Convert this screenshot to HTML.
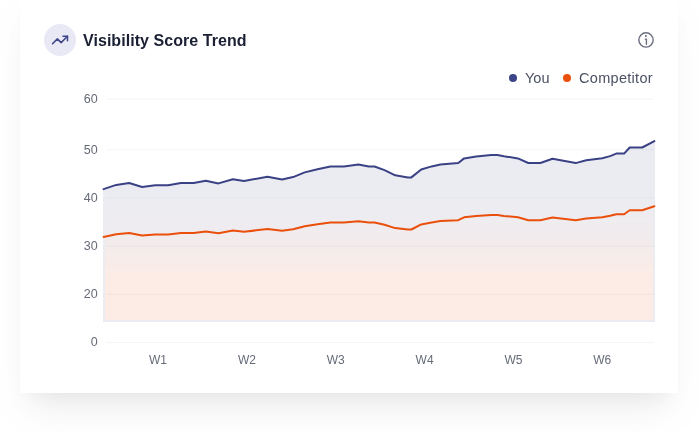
<!DOCTYPE html>
<html lang="en"><head><meta charset="utf-8"><title>Visibility Score Trend</title>
<style>
html,body{margin:0;padding:0;background:#fff;}
body{width:698px;height:433px;overflow:hidden;position:relative;font-family:"Liberation Sans",sans-serif;}
.card{position:absolute;left:20px;top:-10px;width:658px;height:402.5px;background:#fff;
box-shadow:0 24px 32px -14px rgba(0,0,0,.08),0 10px 14px -5px rgba(0,0,0,.025),0 20px 40px 10px rgba(0,0,0,.016);}
.badge{position:absolute;left:44px;top:24px;width:32px;height:32px;border-radius:50%;background:#e8e9f5;}
.title{position:absolute;left:82.7px;top:31px;font-size:16px;line-height:20px;font-weight:700;color:#1a1f33;white-space:nowrap;letter-spacing:0.05px;}
.legend{position:absolute;top:68px;font-size:14.5px;line-height:20px;color:#4b5163;white-space:nowrap;will-change:transform;}
.title{will-change:transform;}
svg{will-change:transform;}
.dot{position:absolute;width:8px;height:8px;border-radius:50%;}
svg{position:absolute;left:0;top:0;}
svg text{font-family:"Liberation Sans",sans-serif;font-size:12.5px;fill:#666b78;}
</style></head><body>
<div class="card"></div>
<div class="badge"></div>
<svg width="698" height="433" viewBox="0 0 698 433">
<defs>
<linearGradient id="gor" gradientUnits="userSpaceOnUse" x1="0" y1="206" x2="0" y2="320">
<stop offset="0" stop-color="#fdece5" stop-opacity="0.06"/>
<stop offset="0.228" stop-color="#fdece5" stop-opacity="0.13"/>
<stop offset="0.351" stop-color="#fdece5" stop-opacity="0.32"/>
<stop offset="0.474" stop-color="#fdece5" stop-opacity="0.64"/>
<stop offset="0.605" stop-color="#fdece5" stop-opacity="0.92"/>
<stop offset="0.70" stop-color="#fdece5" stop-opacity="1"/>
<stop offset="1" stop-color="#fdece5" stop-opacity="1"/>
</linearGradient>
<linearGradient id="gwarm" gradientUnits="userSpaceOnUse" x1="0" y1="185" x2="0" y2="235">
<stop offset="0" stop-color="#fdece5" stop-opacity="0"/>
<stop offset="1" stop-color="#fdece5" stop-opacity="0.2"/>
</linearGradient>
</defs>
<!-- trending icon -->
<g transform="translate(51,31) scale(0.75)" fill="none" stroke="#3d4589" stroke-width="2" stroke-linecap="round" stroke-linejoin="round">
<polyline points="22 7 13.5 15.5 8.5 10.5 2 17"/><polyline points="16 7 22 7 22 13"/></g>
<!-- info icon -->
<g fill="none" stroke="#6a6f7e" stroke-width="1.4" stroke-linecap="round" stroke-linejoin="round">
<circle cx="646" cy="39.95" r="7.15"/><path d="M645.3 39.15H646.4V44.3"/></g>
<circle cx="645.9" cy="36.1" r="1" fill="#6a6f7e"/>

<polygon points="103,322 103,189.2 103.6,189.1 116.2,184.9 129.2,183.0 142.1,187.0 155.2,185.2 168.1,185.2 181.0,183.0 193.7,183.0 205.8,180.7 218.5,183.4 232.9,179.2 244.0,180.9 267.5,176.8 282.1,179.4 293.1,177.1 304.7,172.4 317.5,169.2 330.4,166.5 344.0,166.5 358.4,164.6 368.8,166.5 374.5,166.5 384.5,170.1 395.2,175.3 407.9,177.4 411.4,177.4 421.2,169.5 431.6,166.4 440.4,164.4 458.3,163.0 464.1,158.4 476.2,156.6 491.2,155.0 497.5,155.0 503.9,156.2 517.9,158.4 528.3,163.0 540.4,163.0 552.5,158.7 575.7,163.1 586.2,160.2 602.3,158.3 610.1,156.1 616.3,153.6 624.1,153.6 629.7,147.5 642.2,147.5 654.4,141.1 655,140.8 655,322" fill="#3f4a80" fill-opacity="0.105"/>
<clipPath id="oc"><rect x="105" y="130" width="548" height="189.8"/></clipPath>
<polygon points="103,322 103,189.2 103.6,189.1 116.2,184.9 129.2,183.0 142.1,187.0 155.2,185.2 168.1,185.2 181.0,183.0 193.7,183.0 205.8,180.7 218.5,183.4 232.9,179.2 244.0,180.9 267.5,176.8 282.1,179.4 293.1,177.1 304.7,172.4 317.5,169.2 330.4,166.5 344.0,166.5 358.4,164.6 368.8,166.5 374.5,166.5 384.5,170.1 395.2,175.3 407.9,177.4 411.4,177.4 421.2,169.5 431.6,166.4 440.4,164.4 458.3,163.0 464.1,158.4 476.2,156.6 491.2,155.0 497.5,155.0 503.9,156.2 517.9,158.4 528.3,163.0 540.4,163.0 552.5,158.7 575.7,163.1 586.2,160.2 602.3,158.3 610.1,156.1 616.3,153.6 624.1,153.6 629.7,147.5 642.2,147.5 654.4,141.1 655,140.8 655,322" fill="url(#gwarm)" clip-path="url(#oc)"/>
<polygon points="103,320 103,237.1 103.6,236.9 116.2,234.3 129.2,233.0 142.1,235.6 155.2,234.5 168.1,234.5 181.0,233.0 193.7,233.0 205.8,231.6 218.5,233.3 232.9,230.6 244.0,231.7 267.5,229.1 282.1,230.7 293.1,229.3 304.7,226.3 317.5,224.2 330.4,222.5 344.0,222.5 358.4,221.3 368.8,222.5 374.5,222.5 384.5,224.8 395.2,228.1 407.9,229.5 411.4,229.5 421.2,224.4 431.6,222.4 440.4,221.1 458.3,220.2 464.1,217.3 476.2,216.1 491.2,215.1 497.5,215.1 503.9,215.9 517.9,217.3 528.3,220.2 540.4,220.2 552.5,217.5 575.7,220.3 586.2,218.5 602.3,217.2 610.1,215.8 616.3,214.2 624.1,214.2 629.7,210.3 642.2,210.3 654.4,206.2 655,206.0 655,320" fill="url(#gor)" clip-path="url(#oc)"/>
<line x1="106" x2="654" y1="99.0" y2="99.0" stroke="#10102a" stroke-opacity="0.045" stroke-width="1"/>
<line x1="106" x2="654" y1="149.7" y2="149.7" stroke="#10102a" stroke-opacity="0.045" stroke-width="1"/>
<line x1="106" x2="654" y1="197.9" y2="197.9" stroke="#10102a" stroke-opacity="0.045" stroke-width="1"/>
<line x1="106" x2="654" y1="246.15" y2="246.15" stroke="#10102a" stroke-opacity="0.045" stroke-width="1"/>
<line x1="106" x2="654" y1="294.3" y2="294.3" stroke="#10102a" stroke-opacity="0.045" stroke-width="1"/>
<line x1="106" x2="654" y1="342.45" y2="342.45" stroke="#10102a" stroke-opacity="0.045" stroke-width="1"/>

<polyline points="103.6,189.1 116.2,184.9 129.2,183.0 142.1,187.0 155.2,185.2 168.1,185.2 181.0,183.0 193.7,183.0 205.8,180.7 218.5,183.4 232.9,179.2 244.0,180.9 267.5,176.8 282.1,179.4 293.1,177.1 304.7,172.4 317.5,169.2 330.4,166.5 344.0,166.5 358.4,164.6 368.8,166.5 374.5,166.5 384.5,170.1 395.2,175.3 407.9,177.4 411.4,177.4 421.2,169.5 431.6,166.4 440.4,164.4 458.3,163.0 464.1,158.4 476.2,156.6 491.2,155.0 497.5,155.0 503.9,156.2 517.9,158.4 528.3,163.0 540.4,163.0 552.5,158.7 575.7,163.1 586.2,160.2 602.3,158.3 610.1,156.1 616.3,153.6 624.1,153.6 629.7,147.5 642.2,147.5 654.4,141.1" fill="none" stroke="#3a4285" stroke-width="2" stroke-linejoin="round" stroke-linecap="round"/>
<polyline points="103.6,236.9 116.2,234.3 129.2,233.0 142.1,235.6 155.2,234.5 168.1,234.5 181.0,233.0 193.7,233.0 205.8,231.6 218.5,233.3 232.9,230.6 244.0,231.7 267.5,229.1 282.1,230.7 293.1,229.3 304.7,226.3 317.5,224.2 330.4,222.5 344.0,222.5 358.4,221.3 368.8,222.5 374.5,222.5 384.5,224.8 395.2,228.1 407.9,229.5 411.4,229.5 421.2,224.4 431.6,222.4 440.4,221.1 458.3,220.2 464.1,217.3 476.2,216.1 491.2,215.1 497.5,215.1 503.9,215.9 517.9,217.3 528.3,220.2 540.4,220.2 552.5,217.5 575.7,220.3 586.2,218.5 602.3,217.2 610.1,215.8 616.3,214.2 624.1,214.2 629.7,210.3 642.2,210.3 654.4,206.2" fill="none" stroke="#ea4f0c" stroke-width="2" stroke-linejoin="round" stroke-linecap="round"/>
<text x="97.7" y="103.0" text-anchor="end">60</text>
<text x="97.7" y="153.9" text-anchor="end">50</text>
<text x="97.7" y="202.0" text-anchor="end">40</text>
<text x="97.7" y="250.1" text-anchor="end">30</text>
<text x="97.7" y="298.3" text-anchor="end">20</text>
<text x="97.7" y="346.4" text-anchor="end">0</text>

<text x="158.0" y="363.8" text-anchor="middle" style="font-size:12px">W1</text>
<text x="246.9" y="363.8" text-anchor="middle" style="font-size:12px">W2</text>
<text x="335.7" y="363.8" text-anchor="middle" style="font-size:12px">W3</text>
<text x="424.6" y="363.8" text-anchor="middle" style="font-size:12px">W4</text>
<text x="513.4" y="363.8" text-anchor="middle" style="font-size:12px">W5</text>
<text x="602.3" y="363.8" text-anchor="middle" style="font-size:12px">W6</text>

</svg>
<div class="title">Visibility Score Trend</div>
<div class="dot" style="left:509px;top:74px;background:#3d4589"></div>
<div class="legend" style="left:524.8px">You</div>
<div class="dot" style="left:563px;top:74px;background:#ea4f0c"></div>
<div class="legend" style="left:579.3px;letter-spacing:0.3px">Competitor</div>
</body></html>
